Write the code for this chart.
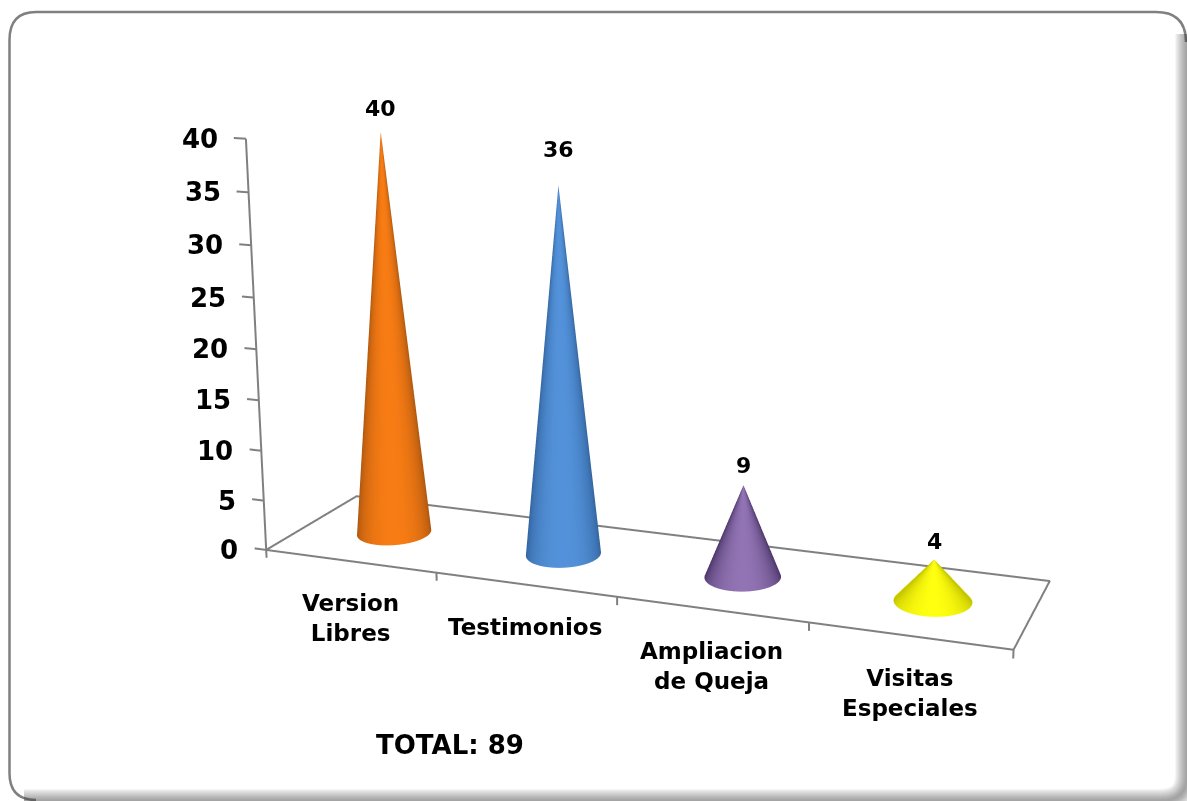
import numpy as np, plotly.graph_objects as go

W, H = 1187, 801
categories = [["Version", "Libres"], ["Testimonios"], ["Ampliacion", "de Queja"], ["Visitas", "Especiales"]]
values = [40, 36, 9, 4]
z_ticks = [0, 5, 10, 15, 20, 25, 30, 35, 40]
cone_colors = [('#A4520E', '#F87C14'), ('#2F5F98', '#5392DA'), ('#4A3468', '#9274B4'), ('#C4C400', '#FFFF10')]
label_lift = [23, 36, 20, 18]

# camera and view skew of the reference's 3-D view
ex, ey, ez = 0.27095, -2.10451, 1.20278
cx, cy, cz = -0.08411, -0.07003, 0.02397
ux = -0.00991
sy, sz = 0.29307, 0.02592
k1, k2, k3, k4 = 0.29683, -0.01341, -0.00501, 0.03710


def S(x, y, z):
    x, y, z = np.asarray(x, float), np.asarray(y, float), np.asarray(z, float)
    return x + k1 * y + k3 * z, y + k2 * x + k4 * z, z


def screen_x(x, y, z):
    a, b, c_ = S(x, y, z)
    P = np.stack([(a - 2) * .5, (b - .5) * sy, (c_ - 20) * sz], axis=-1)
    e = np.array([ex, ey, ez])
    f = np.array([cx, cy, cz]) - e
    f /= np.linalg.norm(f)
    s = np.cross(f, [ux, 0, 1.])
    s /= np.linalg.norm(s)
    d = P - e
    return (d @ s) / (d @ f)


fig = go.Figure()
line = dict(color='#808080', width=4)


def seg(xs, ys, zs):
    a, b, c = S(xs, ys, zs)
    fig.add_trace(go.Scatter3d(x=a, y=b, z=c, mode='lines', line=line, hoverinfo='skip'))


seg([0, 4, 4, 0, 0], [0, 0, 1, 1, 0], [0] * 5)
seg([0, 0], [0, 0], [0, 40])
for t in z_ticks:
    seg([0, -.07], [0, 0], [t, t])
for t in range(5):
    seg([t, t], [0, 0], [0, -.8])

u = np.linspace(0, 2 * np.pi, 97)
v = np.linspace(0, 1, 25)
U, V = np.meshgrid(u, v)
for i, h in enumerate(values):
    xc = i + .5
    X0, Y0 = xc + .195 * np.cos(U), .5 + .22 * np.sin(U)
    sx = screen_x(X0, Y0, np.zeros_like(U))
    mid, half = (sx.max() + sx.min()) / 2, (sx.max() - sx.min()) / 2
    T = np.sqrt(np.clip(1 - ((sx - mid) / half) ** 2, 0, 1))
    a, b, c = S(xc + .195 * (1 - V) * np.cos(U), .5 + .22 * (1 - V) * np.sin(U), h * V)
    fig.add_trace(go.Surface(x=a, y=b, z=c, surfacecolor=T, cmin=0, cmax=1, showscale=False, hoverinfo='skip',
                             colorscale=[[0, cone_colors[i][0]], [1, cone_colors[i][1]]],
                             lighting=dict(ambient=1, diffuse=0, specular=0, fresnel=0, roughness=1),
                             contours=dict(x=dict(show=False), y=dict(show=False), z=dict(show=False))))

ann = []
bf = lambda s: dict(family='DejaVu Sans', size=s, color='black', weight='bold')
for t in z_ticks:
    a, b, c = S(0, 0, t)
    ann.append(dict(x=float(a), y=float(b), z=float(c), text=str(t), showarrow=False,
                    xanchor='right', yanchor='middle', xshift=-26, font=bf(26)))
for i, lab in enumerate(categories):
    a, b, c = S(i + .5, 0, 0)
    ann.append(dict(x=float(a), y=float(b), z=float(c), text="<br>".join(lab), showarrow=False,
                    xanchor='center', yanchor='top', yshift=-27, font=bf(23)))
for i, h in enumerate(values):
    a, b, c = S(i + .5, .5, h)
    ann.append(dict(x=float(a), y=float(b), z=float(c), text=str(h), showarrow=False,
                    xanchor='center', yanchor='middle', yshift=label_lift[i], font=bf(22)))

px = lambda x, y: f"{x / W:.5f},{1 - y / H:.5f}"
frame = (f"M {px(1186, 42)} Q {px(1186, 12)} {px(1156, 12)} L {px(36, 12)} Q {px(9.5, 12)} {px(9.5, 40)} "
         f"L {px(9.5, 773)} Q {px(9.5, 800)} {px(36, 800)}")
shapes = [dict(type='path', xref='paper', yref='paper', path=frame, line=dict(color='#808080', width=2.5), layer='above')]
for w in [24, 22, 20, 18, 16, 14, 12, 10, 8, 6, 4, 2]:
    shapes.append(dict(type='path', xref='paper', yref='paper', layer='above',
                       line=dict(color='rgba(70,70,70,0.055)', width=w),
                       path=f"M {px(1187, 34)} L {px(1187, 775)} Q {px(1187, 801)} {px(1160, 801)} L {px(24, 801)}"))

fig.update_layout(width=W, height=H, margin=dict(l=0, r=0, t=0, b=0), showlegend=False,
                  paper_bgcolor='white', shapes=shapes,
                  annotations=[dict(text='TOTAL: 89', x=450 / W, y=1 - 745 / H, xanchor='center', yanchor='middle',
                                    xref='paper', yref='paper', showarrow=False, font=bf(26))],
                  scene=dict(domain=dict(x=[0, 1], y=[0, 1]), aspectmode='manual',
                             aspectratio=dict(x=3, y=6 * sy, z=50 * sz), dragmode='orbit',
                             camera=dict(eye=dict(x=ex, y=ey, z=ez), center=dict(x=cx, y=cy, z=cz),
                                         up=dict(x=ux, y=0, z=1)),
                             annotations=ann,
                             xaxis=dict(range=[-1, 5], visible=False),
                             yaxis=dict(range=[-2.5, 3.5], visible=False),
                             zaxis=dict(range=[-5, 45], visible=False)))
fig.write_html('out.html', config=dict(displayModeBar=False), post_script="document.body.style.margin='0';")
